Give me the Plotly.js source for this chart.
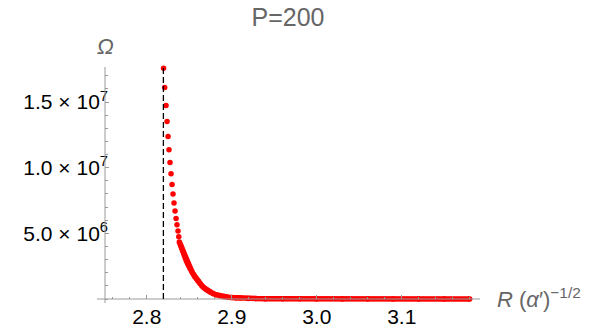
<!DOCTYPE html>
<html>
<head>
<meta charset="utf-8">
<script src="https://cdn.plot.ly/plotly-3.0.1.min.js"></script>
<style>html,body{margin:0;padding:0;background:#fff;}#chart{width:603px;height:331px;}</style>
</head>
<body>
<div id="chart"></div>
<script>
// Sparse points near the asymptote (R, Omega in units of 1e6)
const sparseR = [2.8198, 2.8211, 2.8227, 2.8239, 2.8251, 2.8262, 2.8274, 2.8286, 2.8298, 2.8309, 2.8321, 2.8333, 2.8345, 2.8356, 2.8368, 2.8377];
const sparseOmega = [17.57, 16.10, 14.73, 13.51, 12.37, 11.36, 10.40, 9.54, 8.72, 8.00, 7.31, 6.70, 6.14, 5.66, 5.18, 4.75];
// Dense part of the curve
const denseR = [2.8383, 2.8398, 2.8409, 2.8421, 2.8433, 2.8445, 2.8456, 2.8468, 2.8480, 2.8492, 2.8504, 2.8515, 2.8533, 2.8551, 2.8568, 2.8586, 2.8604, 2.8627, 2.8651, 2.8674, 2.8698, 2.8721, 2.8745, 2.8780, 2.8815, 2.8862, 2.8909, 2.8957, 2.9004, 2.9051, 2.9098, 2.9192, 2.9286, 2.9392, 2.96, 2.98, 3.00, 3.03, 3.06, 3.09, 3.12, 3.15, 3.18];
const denseOmega = [4.35, 4.10, 3.88, 3.67, 3.46, 3.25, 3.06, 2.88, 2.71, 2.55, 2.40, 2.26, 2.05, 1.86, 1.68, 1.52, 1.37, 1.18, 1.00, 0.86, 0.73, 0.62, 0.53, 0.42, 0.33, 0.24, 0.18, 0.14, 0.11, 0.084, 0.068, 0.046, 0.030, 0.023, 0.015, 0.011, 0.008, 0.006, 0.005, 0.004, 0.003, 0.003, 0.002];
const asymptoteR = 2.8196;
const xTickVals = [2.8, 2.9, 3.0, 3.1];
const xTickText = ["2.8", "2.9", "3.0", "3.1"];
const yTickVals = [5e6, 1e7, 1.5e7];
const yTickText = ["5.0 × 10<sup>6</sup>", "1.0 × 10<sup>7</sup>", "1.5 × 10<sup>7</sup>"];
const UNIT = 1e6;

const red = "#ff0000";
const axisGray = "#9a9a9a";
const labelGray = "#666666";
const fontFam = "Liberation Sans, Arial, sans-serif";

// plot area: top 67px, bottom 303.5px; y=0 sits 4px above the bottom
const plotH = 236.5;
const zeroFrac = 4 / plotH;

const traces = [
  {
    x: sparseR, y: sparseOmega.map(v => v * UNIT),
    type: "scatter", mode: "markers", cliponaxis: false,
    marker: {color: red, size: 5.5}, hoverinfo: "skip"
  },
  {
    x: denseR, y: denseOmega.map(v => v * UNIT),
    type: "scatter", mode: "lines+markers", cliponaxis: false,
    line: {color: red, width: 5.5},
    marker: {color: red, size: 5.5}, hoverinfo: "skip"
  }
];

const layout = {
  width: 603, height: 331,
  margin: {l: 105, r: 123, t: 67, b: 27.5, pad: 0},
  paper_bgcolor: "#fff", plot_bgcolor: "#fff",
  showlegend: false,
  font: {family: fontFam, size: 21, color: "#000"},
  title: {
    text: "P=200", font: {family: fontFam, size: 25, color: labelGray},
    xref: "container", yref: "container", x: 288 / 603, xanchor: "center",
    y: 1 - 17.5 / 331, yanchor: "middle"
  },
  xaxis: {
    range: [2.7509, 3.1921], showgrid: false, zeroline: false, showline: false,
    anchor: "free", position: zeroFrac,
    ticks: "inside", ticklen: 4, tickwidth: 1, tickcolor: axisGray,
    tickmode: "array", tickvals: xTickVals, ticktext: xTickText,
    ticklabelstandoff: 3,
    tickfont: {family: fontFam, size: 21, color: "#000"},
    minor: {tickmode: "linear", tick0: 2.8, dtick: 0.02, ticks: "inside", ticklen: 2.5, tickcolor: axisGray, tickwidth: 1}
  },
  yaxis: {
    range: [-0.304e6, 17.67e6], showgrid: false, zeroline: false, showline: false,
    ticks: "inside", ticklen: 4, tickwidth: 1, tickcolor: axisGray,
    tickmode: "array", tickvals: yTickVals, ticktext: yTickText,
    ticklabelstandoff: -4,
    tickfont: {family: fontFam, size: 21, color: "#000"},
    minor: {tickmode: "linear", tick0: 0, dtick: 1e6, ticks: "inside", ticklen: 2.5, tickcolor: axisGray, tickwidth: 1}
  },
  shapes: [
    {type: "line", xref: "paper", yref: "paper", x0: -8 / 375, x1: 1, y0: zeroFrac, y1: zeroFrac, line: {color: axisGray, width: 1}},
    {type: "line", xref: "paper", yref: "paper", x0: 0, x1: 0, y0: 0, y1: 1, line: {color: axisGray, width: 1}},
    {type: "line", xref: "x", yref: "y", x0: asymptoteR, x1: asymptoteR, y0: 0, y1: 17.6e6, layer: "above",
     line: {color: "#000", width: 1.3, dash: "6px,3px"}}
  ],
  annotations: [
    {text: "<i>Ω</i>", xref: "paper", yref: "paper", x: 0, y: (303.5 - 46) / plotH,
     xanchor: "center", yanchor: "middle", showarrow: false, font: {family: fontFam, size: 22, color: labelGray}},
    {text: "<i>R</i> (<i>α</i>′)<sup>−1/2</sup>", xref: "paper", yref: "paper", x: (495 - 105) / 375, y: (303.5 - 298) / plotH,
     xanchor: "left", yanchor: "middle", showarrow: false, font: {family: fontFam, size: 22, color: labelGray}}
  ]
};

Plotly.newPlot("chart", traces, layout, {staticPlot: true, displayModeBar: false});
</script>
</body>
</html>
